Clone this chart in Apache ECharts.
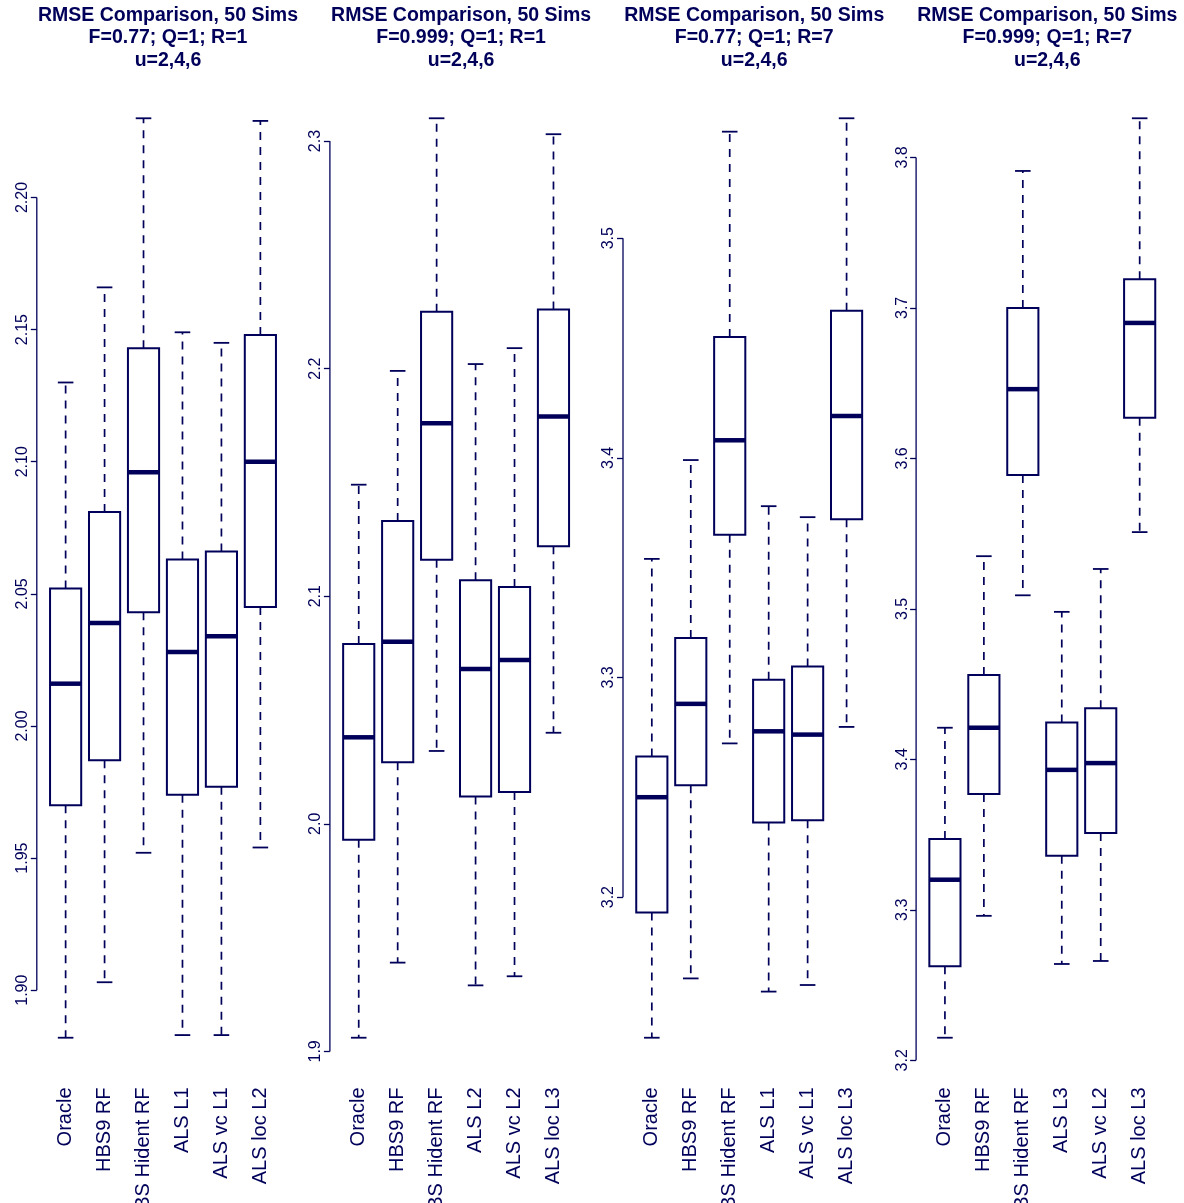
<!DOCTYPE html>
<html>
<head>
<meta charset="utf-8">
<script src="https://cdn.jsdelivr.net/npm/echarts@6/dist/echarts.min.js"></script>
<style>
html,body{margin:0;padding:0;background:#fff;}
#chart{width:1184px;height:1203px;}
</style>
</head>
<body>
<div id="chart"></div>
<script>
// ---------- DATA ----------
const titles = [
  'RMSE Comparison, 50 Sims\nF=0.77; Q=1; R=1\nu=2,4,6',
  'RMSE Comparison, 50 Sims\nF=0.999; Q=1; R=1\nu=2,4,6',
  'RMSE Comparison, 50 Sims\nF=0.77; Q=1; R=7\nu=2,4,6',
  'RMSE Comparison, 50 Sims\nF=0.999; Q=1; R=7\nu=2,4,6'
];

const categories1 = ['Oracle', 'HBS9 RF', 'HBS Hident RF', 'ALS L1', 'ALS vc L1', 'ALS loc L2'];
const categories2 = ['Oracle', 'HBS9 RF', 'HBS Hident RF', 'ALS L2', 'ALS vc L2', 'ALS loc L3'];
const categories3 = ['Oracle', 'HBS9 RF', 'HBS Hident RF', 'ALS L1', 'ALS vc L1', 'ALS loc L3'];
const categories4 = ['Oracle', 'HBS9 RF', 'HBS Hident RF', 'ALS L3', 'ALS vc L2', 'ALS loc L3'];

// [lower whisker, Q1, median, Q3, upper whisker]
const stats1 = [
  [1.882, 1.970, 2.016, 2.052, 2.130],
  [1.903, 1.987, 2.039, 2.081, 2.166],
  [1.952, 2.043, 2.096, 2.143, 2.230],
  [1.883, 1.974, 2.028, 2.063, 2.149],
  [1.883, 1.977, 2.034, 2.066, 2.145],
  [1.954, 2.045, 2.100, 2.148, 2.229]
];
const stats2 = [
  [1.906, 1.993, 2.038, 2.079, 2.149],
  [1.939, 2.027, 2.080, 2.133, 2.199],
  [2.032, 2.116, 2.176, 2.225, 2.310],
  [1.929, 2.012, 2.068, 2.107, 2.202],
  [1.933, 2.014, 2.072, 2.104, 2.209],
  [2.040, 2.122, 2.179, 2.226, 2.303]
];
const stats3 = [
  [3.136, 3.193, 3.2455, 3.264, 3.354],
  [3.163, 3.251, 3.288, 3.318, 3.399],
  [3.270, 3.365, 3.408, 3.455, 3.5485],
  [3.157, 3.234, 3.2755, 3.299, 3.378],
  [3.160, 3.235, 3.274, 3.305, 3.373],
  [3.2775, 3.372, 3.419, 3.467, 3.5546]
];
const stats4 = [
  [3.215, 3.2625, 3.320, 3.347, 3.421],
  [3.296, 3.377, 3.421, 3.456, 3.535],
  [3.509, 3.589, 3.646, 3.700, 3.791],
  [3.264, 3.336, 3.393, 3.4245, 3.498],
  [3.266, 3.351, 3.3975, 3.434, 3.5265],
  [3.551, 3.627, 3.690, 3.719, 3.826]
];

const tickLabels1 = ['1.90', '1.95', '2.00', '2.05', '2.10', '2.15', '2.20'];
const tickLabels2 = ['1.9', '2.0', '2.1', '2.2', '2.3'];
const tickLabels3 = ['3.2', '3.3', '3.4', '3.5'];
const tickLabels4 = ['3.2', '3.3', '3.4', '3.5', '3.6', '3.7', '3.8'];

// ---------- LAYOUT / STYLE ----------
const INK = '#00005a';
const FONT = '"Liberation Sans", Arial, Helvetica, sans-serif';
const panels = [
  {cats: categories1, stats: stats1, ticks: tickLabels1},
  {cats: categories2, stats: stats2, ticks: tickLabels2},
  {cats: categories3, stats: stats3, ticks: tickLabels3},
  {cats: categories4, stats: stats4, ticks: tickLabels4}
];
const PANEL_PITCH = 293.1;
const PLOT_LEFT0 = 36.8;
const PLOT_W = 252.4;
const PLOT_TOP = 81.5;
const PLOT_H = 993;
const XMIN = 0.26, XMAX = 6.74;

const grids = [], xAxes = [], yAxes = [], series = [], titleOpts = [];

panels.forEach((p, k) => {
  const left = PLOT_LEFT0 + PANEL_PITCH * k;
  grids.push({left: left, top: PLOT_TOP, width: PLOT_W, height: PLOT_H,
    containLabel: false, outerBoundsMode: 'none'});

  // y range as R does: data range extended by 4%
  let lo = Infinity, hi = -Infinity;
  p.stats.forEach(s => { lo = Math.min(lo, s[0]); hi = Math.max(hi, s[4]); });
  const ext = (hi - lo) * 0.04;
  const tickVals = p.ticks.map(Number);

  titleOpts.push({
    text: titles[k],
    left: left + PLOT_W / 2,
    top: -1,
    textAlign: 'center',
    textStyle: {fontFamily: FONT, fontSize: 19.5, fontWeight: 'bold', color: INK, lineHeight: 22.5}
  });

  const cats = p.cats;
  xAxes.push({
    type: 'value', gridIndex: k, min: XMIN, max: XMAX,
    axisLine: {show: false}, axisTick: {show: false}, splitLine: {show: false},
    axisLabel: {
      show: true, customValues: [1, 2, 3, 4, 5, 6], rotate: 90, margin: 13,
      fontFamily: FONT, fontSize: 20, color: INK,
      formatter: v => cats[Math.round(v) - 1] || ''
    }
  });

  const labs = p.ticks;
  yAxes.push({
    type: 'value', gridIndex: k, min: lo - ext, max: hi + ext,
    axisLine: {show: false}, splitLine: {show: false},
    axisTick: {show: true, customValues: tickVals, length: 6, lineStyle: {color: INK, width: 1.3}},
    axisLabel: {
      show: true, customValues: tickVals, rotate: 90, margin: 6,
      fontFamily: FONT, fontSize: 16, color: INK,
      formatter: v => {
        const i = tickVals.findIndex(t => Math.abs(t - v) < 1e-9);
        return i >= 0 ? labs[i] : '';
      }
    }
  });

  // y axis line drawn only between first and last tick (R style)
  series.push({
    type: 'custom', xAxisIndex: k, yAxisIndex: k, silent: true, clip: false,
    data: [[XMIN, tickVals[0], tickVals[tickVals.length - 1]]],
    renderItem: (params, api) => {
      const a = api.coord([api.value(0), api.value(1)]);
      const b = api.coord([api.value(0), api.value(2)]);
      return {type: 'line', shape: {x1: a[0], y1: a[1], x2: b[0], y2: b[1]},
        style: {stroke: INK, lineWidth: 1.3}};
    }
  });

  // box plots
  series.push({
    type: 'custom', xAxisIndex: k, yAxisIndex: k, silent: true, clip: false,
    data: p.stats.map((s, i) => [i + 1].concat(s)),
    renderItem: (params, api) => {
      const x = api.value(0);
      const lw = api.value(1), q1 = api.value(2), md = api.value(3), q3 = api.value(4), hw = api.value(5);
      const bw = api.size([0.8, 0])[0];
      const cw = bw / 2;
      const c = api.coord([x, md]);
      const cx = c[0];
      const yLw = api.coord([x, lw])[1], yQ1 = api.coord([x, q1])[1], yMd = c[1];
      const yQ3 = api.coord([x, q3])[1], yHw = api.coord([x, hw])[1];
      const dashed = {stroke: INK, lineWidth: 1.7, lineDash: [8, 7], fill: null};
      const solid = {stroke: INK, lineWidth: 1.8, fill: null};
      return {
        type: 'group',
        children: [
          {type: 'line', shape: {x1: cx, y1: yQ3, x2: cx, y2: yHw}, style: dashed},
          {type: 'line', shape: {x1: cx, y1: yQ1, x2: cx, y2: yLw}, style: dashed},
          {type: 'line', shape: {x1: cx - cw / 2, y1: yHw, x2: cx + cw / 2, y2: yHw}, style: solid},
          {type: 'line', shape: {x1: cx - cw / 2, y1: yLw, x2: cx + cw / 2, y2: yLw}, style: solid},
          {type: 'rect', shape: {x: cx - bw / 2, y: yQ3, width: bw, height: yQ1 - yQ3},
            style: {stroke: INK, lineWidth: 2, fill: '#ffffff'}},
          {type: 'line', shape: {x1: cx - bw / 2, y1: yMd, x2: cx + bw / 2, y2: yMd},
            style: {stroke: INK, lineWidth: 4.5}}
        ]
      };
    }
  });
});

const chart = echarts.init(document.getElementById('chart'), null, {renderer: 'canvas'});
chart.setOption({
  backgroundColor: '#ffffff',
  animation: false,
  title: titleOpts,
  grid: grids,
  xAxis: xAxes,
  yAxis: yAxes,
  series: series
});
</script>
</body>
</html>
